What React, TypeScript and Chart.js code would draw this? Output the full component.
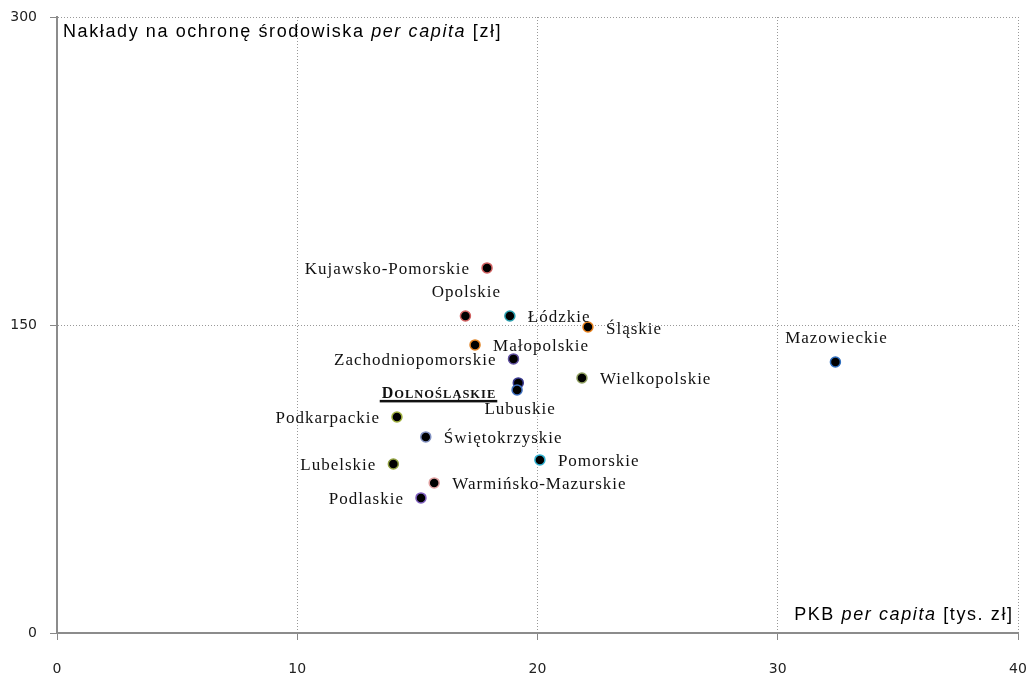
import React, { useEffect, useRef } from "react";
import { Chart, registerables } from "chart.js";

Chart.register(...registerables);

const REGIONS = [
  "Kujawsko-Pomorskie", "Opolskie", "Łódzkie", "Śląskie", "Mazowieckie",
  "Małopolskie", "Zachodniopomorskie", "Wielkopolskie", "Dolnośląskie", "Lubuskie",
  "Podkarpackie", "Świętokrzyskie", "Pomorskie", "Lubelskie", "Warmińsko-Mazurskie", "Podlaskie",
];
const GDP_PER_CAPITA = [17.9, 17.0, 18.85, 22.1, 32.4, 17.4, 19.0, 21.85, 19.2, 19.15, 14.15, 15.35, 20.1, 14.0, 15.7, 15.15];
const ENV_SPENDING = [177.8, 154.4, 154.4, 149.0, 132.0, 140.3, 133.5, 124.2, 121.8, 118.4, 105.2, 95.5, 84.3, 82.3, 73.1, 65.8];
const LABEL_PLACEMENT = [
  "left", "top", "right", "right", "top",
  "right", "left", "right", "leftLow", "bottom",
  "left", "right", "right", "left", "right", "left",
];
const POINT_BORDER = [
  "#d06060", "#d06060", "#2aa0b0", "#e8801c", "#3070c0",
  "#e08020", "#6050a0", "#90a060", "#3a3a90", "#4070c0",
  "#a0b040", "#8090c0", "#30b0d0", "#90a040", "#e0a0a0", "#8060c0",
];
const X_TICKS = [0, 10, 20, 30, 40];
const Y_TICKS = [0, 150, 300];
const Y_TITLE = [["Nakłady na ochronę środowiska ", false], ["per capita", true], [" [zł]", false]] as [string, boolean][];
const X_TITLE = [["PKB ", false], ["per capita", true], [" [tys. zł]", false]] as [string, boolean][];

const SANS = "'Liberation Sans', Arial, sans-serif";
const SERIF = "'Liberation Serif', 'Times New Roman', serif";

function drawRich(ctx: any, parts: [string, boolean][], x: number, y: number, align: "left" | "right", size: number, spacing: number) {
  ctx.letterSpacing = `${spacing}px`;
  const fonts = parts.map(([, it]) => `${it ? "italic " : ""}${size}px ${SANS}`);
  const widths = parts.map(([t], i) => { ctx.font = fonts[i]; return ctx.measureText(t).width; });
  const total = widths.reduce((a, b) => a + b, 0) - spacing;
  let cx = align === "left" ? x : x - total;
  ctx.textAlign = "left";
  ctx.textBaseline = "alphabetic";
  parts.forEach(([t], i) => { ctx.font = fonts[i]; ctx.fillText(t, cx, y); cx += widths[i]; });
  ctx.letterSpacing = "0px";
}

const labelPlugin = {
  id: "labels",
  afterDatasetsDraw(chart: any) {
    const ctx: any = chart.ctx;
    const meta = chart.getDatasetMeta(0);
    const area = chart.chartArea;
    ctx.save();
    ctx.fillStyle = "#111";
    meta.data.forEach((el: any, i: number) => {
      const name = REGIONS[i];
      const pos = LABEL_PLACEMENT[i];
      const px = el.x, py = el.y;
      if (pos === "leftLow") {
        ctx.letterSpacing = "1px";
        const big = `bold 16px ${SERIF}`;
        const small = `bold 12.5px ${SERIF}`;
        const first = name[0].toUpperCase();
        const rest = name.slice(1).toUpperCase();
        ctx.font = big; const w1 = ctx.measureText(first).width;
        ctx.font = small; const w2 = ctx.measureText(rest).width - 1;
        const right = px - 23;
        const left = right - w1 - w2;
        const base = py + 15;
        ctx.textBaseline = "alphabetic"; ctx.textAlign = "left";
        ctx.font = big; ctx.fillText(first, left, base);
        ctx.font = small; ctx.fillText(rest, left + w1, base);
        ctx.fillRect(left - 2, base + 2, w1 + w2 + 4, 2.5);
        ctx.letterSpacing = "0px";
        return;
      }
      ctx.font = `17px ${SERIF}`;
      ctx.letterSpacing = "1px";
      ctx.textBaseline = "middle";
      if (pos === "left") { ctx.textAlign = "right"; ctx.fillText(name, px - 17, py + 2); }
      else if (pos === "right") { ctx.textAlign = "left"; ctx.fillText(name, px + 18, py + 2); }
      else if (pos === "top") { ctx.textAlign = "center"; ctx.fillText(name, px + 1, py - 23); }
      else { ctx.textAlign = "center"; ctx.fillText(name, px + 3, py + 20); }
      ctx.letterSpacing = "0px";
    });
    ctx.fillStyle = "#000";
    drawRich(ctx, Y_TITLE, area.left + 6, area.top + 20, "left", 18, 1.6);
    drawRich(ctx, X_TITLE, area.right - 6, area.bottom - 13, "right", 18, 1.6);
    ctx.restore();
  },
};

export default function App() {
  const ref = useRef<HTMLCanvasElement | null>(null);
  useEffect(() => {
    if (!ref.current) return;
    const chart = new Chart(ref.current, {
      type: "scatter",
      data: {
        datasets: [{
          data: GDP_PER_CAPITA.map((x, i) => ({ x, y: ENV_SPENDING[i] })),
          backgroundColor: "#000",
          borderColor: POINT_BORDER,
          borderWidth: 1.5,
          pointRadius: 5,
        }],
      },
      options: {
        responsive: false,
        animation: false,
        layout: { padding: { top: 17, right: 15, left: 0, bottom: 0 } },
        plugins: { legend: { display: false }, tooltip: { enabled: false } },
        scales: {
          x: {
            type: "linear", min: 0, max: 40,
            afterBuildTicks: (s: any) => { s.ticks = X_TICKS.map((v) => ({ value: v })); },
            afterFit: (s: any) => { s.height = 42; s.paddingLeft = 0; s.paddingRight = 0; },
            grid: { color: "#999", lineWidth: 1, tickLength: 7, tickColor: "#888", drawTicks: true },
            border: { color: "#8c8c8c", width: 2, dash: [1, 2] },
            ticks: { font: { family: "'DejaVu Sans'", size: 14 }, color: "#222", padding: 21, maxRotation: 0 },
          },
          y: {
            type: "linear", min: 0, max: 300,
            afterBuildTicks: (s: any) => { s.ticks = Y_TICKS.map((v) => ({ value: v })); },
            afterFit: (s: any) => { s.width = 57; s.paddingTop = 0; s.paddingBottom = 0; },
            grid: { color: "#999", lineWidth: 1, tickLength: 7, tickColor: "#888", drawTicks: true },
            border: { color: "#8c8c8c", width: 2, dash: [1, 2] },
            ticks: { font: { family: "'DejaVu Sans'", size: 14 }, color: "#222", padding: 13 },
          },
        },
      },
      plugins: [labelPlugin],
    } as any);
    return () => chart.destroy();
  }, []);
  return (
    <div style={{ position: "absolute", left: 0, top: 0, width: 1033, height: 675, background: "#fff" }}>
      <canvas ref={ref} width={1033} height={675} style={{ display: "block" }} />
    </div>
  );
}
